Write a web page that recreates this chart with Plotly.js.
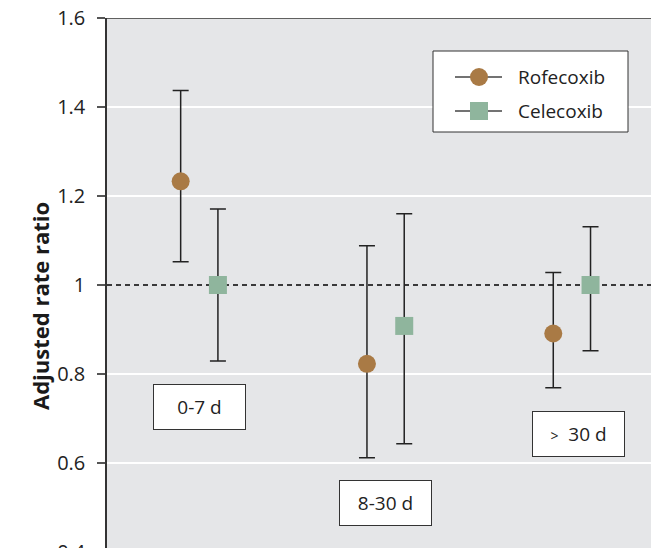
<!DOCTYPE html>
<html>
<head>
<meta charset="utf-8">
<script src="https://cdn.plot.ly/plotly-3.0.1.min.js"></script>
<style>
  html, body { margin: 0; padding: 0; overflow: hidden; background: #ffffff; }
  #chart { width: 651px; height: 560px; }
</style>
</head>
<body>
<div id="chart"></div>
<script>
// ---- data ----
const groups = ['0-7 d', '8-30 d', '> 30 d'];
const groupPos = [1, 2, 3];
const rofecoxib = [1.233, 0.823, 0.891];
const rofecoxibLow = [1.052, 0.612, 0.769];
const rofecoxibHigh = [1.437, 1.088, 1.028];
const celecoxib = [1.0, 0.908, 1.0];
const celecoxibLow = [0.829, 0.643, 0.852];
const celecoxibHigh = [1.171, 1.160, 1.131];
const yTickVals = [0.4, 0.6, 0.8, 1, 1.2, 1.4, 1.6];
const yTickText = ['0.4', '0.6', '0.8', '1', '1.2', '1.4', '1.6'];
const gridVals = [0.6, 0.8, 1.2, 1.4];
const refValue = 1;
const seriesNames = ['Rofecoxib', 'Celecoxib'];
const groupLabelY = [0.726, 0.51, 0.665];

// ---- styling ----
const FONT = '"Open Sans", "Noto Sans", sans-serif';
const ROFE_COLOR = '#a97a45';
const CELE_COLOR = '#8fb59d';
const BG = '#e5e6e8';
const INK = '#222222';
const offset = 0.1;

const W = 651, H = 560, ML = 107, MR = 0, MT = 18, MB = 8;
const PW = W - ML - MR, PH = H - MT - MB;
const px2paperX = p => (p - ML) / PW;
const px2paperY = p => (H - MB - p) / PH;

function errs(vals, lo, hi) {
  return {
    type: 'data', symmetric: false,
    array: vals.map((v, i) => hi[i] - v),
    arrayminus: vals.map((v, i) => v - lo[i]),
    color: INK, thickness: 1.5, width: 8
  };
}

const traces = [
  {
    type: 'scatter', mode: 'markers', name: seriesNames[0],
    x: groupPos.map(g => g - offset), y: rofecoxib,
    error_y: errs(rofecoxib, rofecoxibLow, rofecoxibHigh),
    marker: { symbol: 'circle', size: 18, color: ROFE_COLOR, line: { width: 0 } },
    showlegend: false, hoverinfo: 'skip'
  },
  {
    type: 'scatter', mode: 'markers', name: seriesNames[1],
    x: groupPos.map(g => g + offset), y: celecoxib,
    error_y: errs(celecoxib, celecoxibLow, celecoxibHigh),
    marker: { symbol: 'square', size: 18, color: CELE_COLOR, line: { width: 0 } },
    showlegend: false, hoverinfo: 'skip'
  },
  // invisible trace on overlay axis so its gridlines are drawn
  {
    type: 'scatter', mode: 'markers', x: [groupPos[0]], y: [refValue],
    yaxis: 'y2', marker: { opacity: 0 }, showlegend: false, hoverinfo: 'skip'
  }
];

const shapes = [
  { type: 'line', xref: 'x domain', yref: 'y', x0: 0, x1: 1, y0: refValue, y1: refValue,
    line: { color: '#000', width: 1.3, dash: '5px,4px' }, layer: 'below' },
  // top border
  { type: 'line', xref: 'x domain', yref: 'y', x0: 0, x1: 1, y0: 1.6, y1: 1.6,
    line: { color: '#333', width: 1.5 }, layer: 'above' },
  // legend box
  { type: 'rect', xref: 'paper', yref: 'paper',
    x0: px2paperX(433), x1: px2paperX(628), y0: px2paperY(132), y1: px2paperY(51),
    fillcolor: '#ffffff', line: { color: '#333', width: 1 }, layer: 'above' },
  // legend line symbols
  { type: 'line', xref: 'paper', yref: 'paper',
    x0: px2paperX(455), x1: px2paperX(502), y0: px2paperY(77), y1: px2paperY(77),
    line: { color: '#444', width: 1.5 }, layer: 'above' },
  { type: 'line', xref: 'paper', yref: 'paper',
    x0: px2paperX(455), x1: px2paperX(502), y0: px2paperY(111), y1: px2paperY(111),
    line: { color: '#444', width: 1.5 }, layer: 'above' },
  { type: 'circle', xref: 'paper', yref: 'paper',
    x0: px2paperX(470), x1: px2paperX(488), y0: px2paperY(86), y1: px2paperY(68),
    fillcolor: ROFE_COLOR, line: { width: 0 }, layer: 'above' },
  { type: 'rect', xref: 'paper', yref: 'paper',
    x0: px2paperX(470), x1: px2paperX(488), y0: px2paperY(120), y1: px2paperY(102),
    fillcolor: CELE_COLOR, line: { width: 0 }, layer: 'above' }
];

const labelText = [
  '0-7 d',
  '8-30 d',
  '<span style="font-size:14px">&gt;</span>  30 d'
];
const labelX = [0, 0, 0.035];

const annotations = [
  { xref: 'paper', yref: 'paper', x: px2paperX(23), y: px2paperY(306),
    text: '<b>Adjusted rate ratio</b>', textangle: -90, showarrow: false,
    font: { family: FONT, size: 22, color: '#1a1a1a' } },
  { xref: 'paper', yref: 'paper', x: px2paperX(516), y: px2paperY(77),
    xanchor: 'left', yanchor: 'middle', text: seriesNames[0], showarrow: false,
    font: { family: FONT, size: 19, color: INK } },
  { xref: 'paper', yref: 'paper', x: px2paperX(516), y: px2paperY(111),
    xanchor: 'left', yanchor: 'middle', text: seriesNames[1], showarrow: false,
    font: { family: FONT, size: 19, color: INK } }
];
groups.forEach((g, i) => {
  annotations.push({
    xref: 'x', yref: 'y', x: groupPos[i] + labelX[i], y: groupLabelY[i],
    text: labelText[i], showarrow: false,
    width: 91, height: 44, borderpad: 0, borderwidth: 1,
    bordercolor: '#333', bgcolor: '#ffffff',
    font: { family: FONT, size: 19, color: INK }
  });
});

const layout = {
  width: W, height: H,
  margin: { l: ML, r: MR, t: MT, b: MB, pad: 0 },
  paper_bgcolor: '#ffffff', plot_bgcolor: BG,
  font: { family: FONT, size: 19, color: INK },
  showlegend: false,
  xaxis: {
    range: [0.5046, 3.4246], showgrid: false, zeroline: false,
    showticklabels: false, ticks: '', showline: false, fixedrange: true
  },
  yaxis: {
    range: [0.4, 1.6], tickvals: yTickVals, ticktext: yTickText,
    showgrid: false, zeroline: false,
    showline: true, linecolor: '#333', linewidth: 1.5,
    ticks: 'outside', ticklen: 8, tickwidth: 1.5, tickcolor: '#555',
    ticklabelstandoff: 8, ticklabeloverflow: 'allow',
    tickfont: { family: FONT, size: 20, color: INK }, fixedrange: true
  },
  yaxis2: {
    overlaying: 'y', side: 'left', range: [0.4, 1.6], tickvals: gridVals,
    showticklabels: false, ticks: '', showline: false, zeroline: false,
    showgrid: true, gridcolor: '#ffffff', gridwidth: 2, fixedrange: true
  },
  shapes: shapes,
  annotations: annotations
};

Plotly.newPlot('chart', traces, layout, { displayModeBar: false });
</script>
</body>
</html>
